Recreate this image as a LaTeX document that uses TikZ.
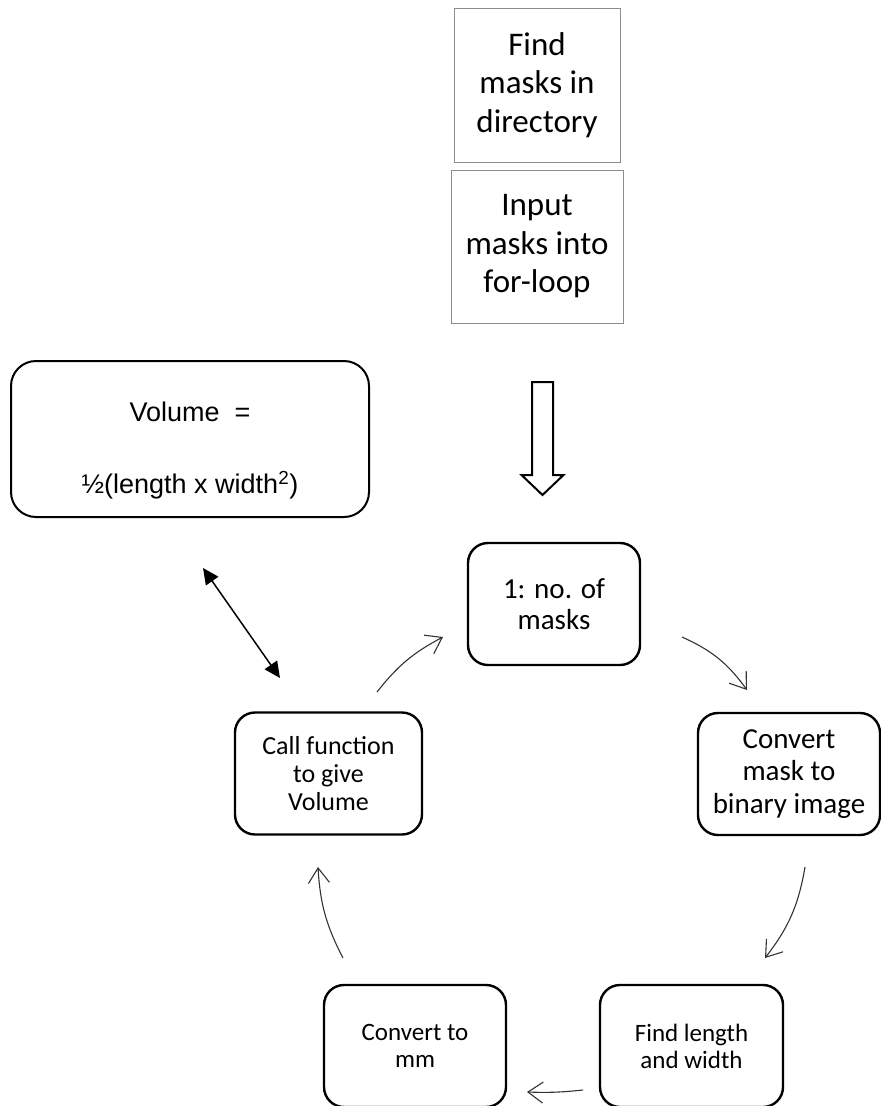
\documentclass[tikz,border=0pt]{standalone}
\usepackage{fontspec}
\setmainfont{Carlito}
\newfontfamily\arialfont{Liberation Sans}
\usepackage{xcolor}
\usepackage{tikz}
\usetikzlibrary{positioning, arrows.meta, calc}
\definecolor{stepgrey}{HTML}{8C8C8C}
\definecolor{flowgrey}{HTML}{333333}

\tikzset{
    stepbox/.style={draw=stepgrey, line width=1pt, align=center, inner sep=0pt,
                    font=\fontsize{33}{38.5}\selectfont},
    loopbox/.style={draw, line width=2.4pt, rounded corners=20pt, align=center,
                    inner sep=0pt, minimum height=122pt},
    flow/.style={-{Straight Barb[length=15pt, width=21pt]}, line width=1.1pt, draw=flowgrey},
}

\begin{document}
\begin{tikzpicture}[x=1pt, y=-1pt]
    \useasboundingbox (0,0) rectangle (881,1106);

    % set-up steps
    \node[stepbox, minimum width=166pt, minimum height=154pt] (find) at (537,85)
        {Find\\masks in\\directory};
    \node[stepbox, minimum width=172pt, minimum height=153pt] (input) at (537,246.5)
        {Input\\masks into\\for-loop};

    % formula box
    \node[draw, line width=2pt, rounded corners=25pt, minimum width=358pt, minimum height=156pt,
          align=center, inner sep=0pt, font=\arialfont\fontsize{27}{36}\selectfont] (volume) at (190,439)
        {\rule{0pt}{42pt}Volume~~=\\[36pt]½(length x width\textsuperscript{2})};

    % the loop
    \node[loopbox, minimum width=172pt, font=\fontsize{29}{31}\selectfont] (count) at (554,604)
        {1: no. of\\masks};
    \node[loopbox, minimum width=182pt, font=\fontsize{29}{32.5}\selectfont] (binary) at (789,774)
        {Convert\\mask to\\binary image};
    \node[loopbox, minimum width=183pt, font=\fontsize{25}{27}\selectfont] (measure) at (691.5,1046)
        {Find length\\and width};
    \node[loopbox, minimum width=182pt, font=\fontsize{25}{27}\selectfont] (tomm) at (415,1046)
        {Convert to\\mm};
    \node[loopbox, minimum width=187pt, font=\fontsize{26}{28}\selectfont] (call) at (328.5,773.5)
        {Call function\\to give\\Volume};

    % free ends of the connectors
    \coordinate (drop) at (542.5,382);
    \coordinate (volend) at (203,568);
    \coordinate (callend) at (280,678);
    \coordinate (a1s) at (377,692);
    \coordinate (a1e) at (443,637);
    \coordinate (a2s) at (682,637);
    \coordinate (a2e) at (747,690);
    \coordinate (a3s) at (805,867);
    \coordinate (a3e) at (765,958);
    \coordinate (a4s) at (583,1090);
    \coordinate (a4e) at (527,1092);
    \coordinate (a5s) at (343,958);
    \coordinate (a5e) at (318,867);

    % hollow arrow into the loop
    \draw[line width=2pt, line join=miter] ($(drop)+(-10.5,0)$) -- ++(21,0) -- ++(0,93) -- ++(10.5,0)
        -- ($(drop)+(0,113)$) -- ($(drop)+(-21,93)$) -- ++(10.5,0) -- cycle;

    \draw[{Triangle[length=16pt, width=15pt]}-{Triangle[length=16pt, width=15pt]}, line width=1.5pt]
        (volend) -- (callend);

    \draw[flow] (a1s) to[bend left=12] (a1e);
    \draw[flow] (a2s) to[bend left=15] (a2e);
    \draw[flow] (a3s) to[bend left=14] (a3e);
    \draw[flow] (a4s) to[bend left=4] (a4e);
    \draw[flow] (a5s) to[bend left=12] (a5e);
\end{tikzpicture}
\end{document}
